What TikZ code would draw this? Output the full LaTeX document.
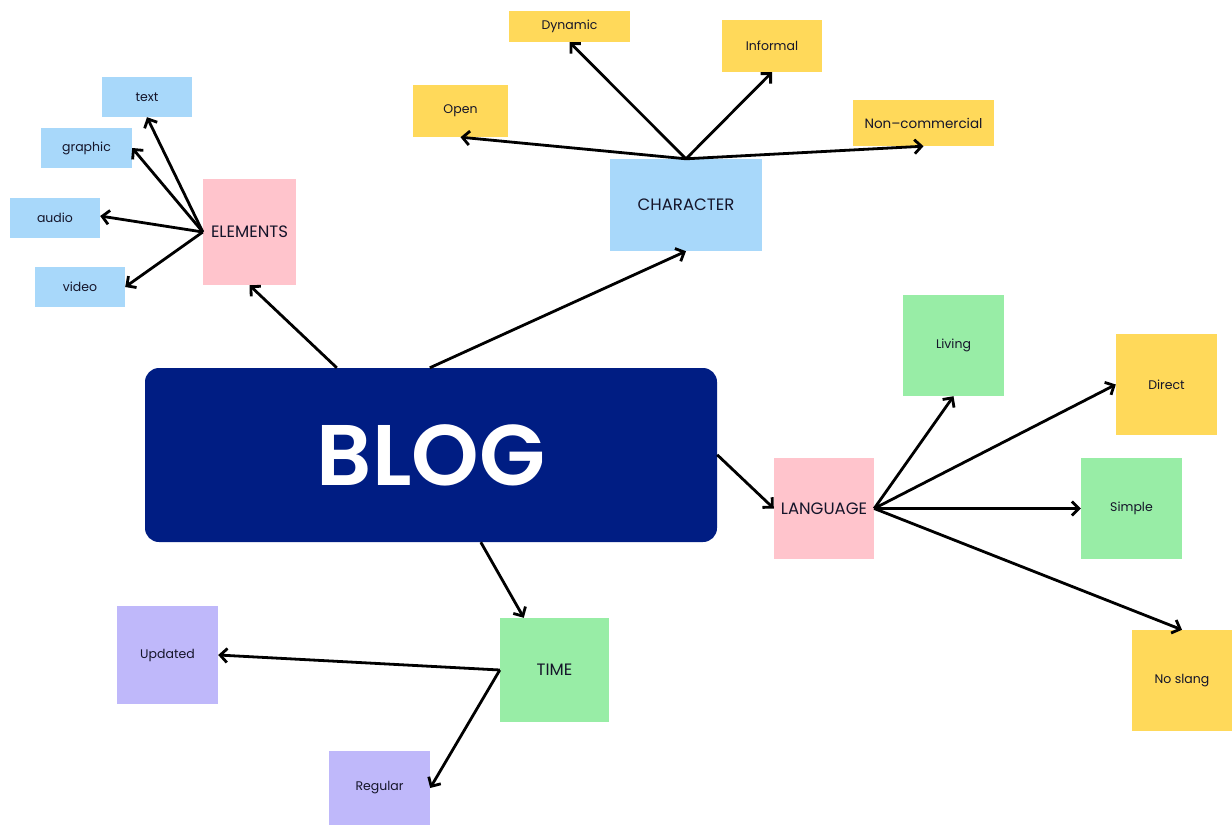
\documentclass[tikz,border=0pt]{standalone}
\usepackage{fontspec}
\setmainfont{Poppins}
\newfontfamily\blogfont{Poppins SemiBold}
\usetikzlibrary{arrows.meta}
\definecolor{cblue}{HTML}{A8D8FA}
\definecolor{cpink}{HTML}{FFC4CC}
\definecolor{cyellow}{HTML}{FFD95A}
\definecolor{cgreen}{HTML}{98EDA6}
\definecolor{cpurple}{HTML}{BFB8FA}
\definecolor{cnavy}{HTML}{001D83}
\definecolor{ctext}{HTML}{15152A}
\tikzset{
  box/.style={rectangle, inner sep=0pt, text=ctext, font=\fontsize{12.5}{14}\selectfont},
  bigbox/.style={box, font=\fontsize{16.5}{18}\selectfont},
  conn/.style={line width=2.8pt, draw=black, -{Straight Barb[length=7pt,width=14pt,line width=2.8pt]}},
}
\begin{document}
\begin{tikzpicture}[x=1pt,y=-1pt]
\useasboundingbox[fill=white] (0,0) rectangle (1232,825);
% central
\node[rectangle, fill=cnavy, rounded corners=14pt, minimum width=572pt, minimum height=174pt, inner sep=0pt,
  text=white, font=\blogfont\fontsize{86}{90}\selectfont] (blog) at (431,455) {BLOG};
% categories
\node[bigbox, fill=cpink, minimum width=93pt, minimum height=106pt] (elem) at (249.5,232) {ELEMENTS};
\node[bigbox, fill=cblue, minimum width=152pt, minimum height=92pt] (char) at (686,205) {CHARACTER};
\node[bigbox, fill=cpink, minimum width=100pt, minimum height=101pt] (lang) at (824,508.5) {LANGUAGE};
\node[bigbox, fill=cgreen, minimum width=109pt, minimum height=104pt] (time) at (554.5,670) {TIME};
% elements children
\node[box, fill=cblue, minimum width=90pt, minimum height=40pt] (text) at (147,97) {text};
\node[box, fill=cblue, minimum width=91pt, minimum height=40pt] (graphic) at (86.5,148) {graphic};
\node[box, fill=cblue, minimum width=90pt, minimum height=40pt] (audio) at (55,218) {audio};
\node[box, fill=cblue, minimum width=90pt, minimum height=40pt] (video) at (80,287) {video};
% character children
\node[box, fill=cyellow, minimum width=95pt, minimum height=52pt] (open) at (460.5,111) {Open};
\node[box, fill=cyellow, minimum width=121pt, minimum height=31pt] (dyn) at (569.5,26.5) {Dynamic};
\node[box, fill=cyellow, minimum width=100pt, minimum height=52pt] (inf) at (772,46) {Informal};
\node[box, fill=cyellow, minimum width=141pt, minimum height=46pt, font=\fontsize{13.5}{15}\selectfont] (nonc) at (923.5,123) {Non--commercial};
% language children
\node[box, fill=cgreen, minimum width=101pt, minimum height=101pt] (living) at (953.5,345.5) {Living};
\node[box, fill=cyellow, minimum width=101pt, minimum height=101pt] (direct) at (1166.5,384.5) {Direct};
\node[box, fill=cgreen, minimum width=101pt, minimum height=101pt] (simple) at (1131.5,508.5) {Simple};
\node[box, fill=cyellow, minimum width=100pt, minimum height=101pt] (slang) at (1182,680.5) {No slang};
% time children
\node[box, fill=cpurple, minimum width=101pt, minimum height=98pt] (upd) at (167.5,655) {Updated};
\node[box, fill=cpurple, minimum width=101pt, minimum height=74pt] (reg) at (379.5,788) {Regular};
% connector anchor points on BLOG
\coordinate (bE) at ([xshift=192pt]blog.north west);
\coordinate (bC) at ([xshift=285pt]blog.north west);
\coordinate (bL) at ([yshift=-87pt]blog.north east);
\coordinate (bT) at ([xshift=336pt]blog.south west);
\coordinate (tT) at ([xshift=24pt]time.north west);
% connectors
\draw[conn] (bE) -- (elem.south);
\draw[conn] (bC) -- (char.south);
\draw[conn] (bL) -- (lang.west);
\draw[conn] (bT) -- (tT);
\draw[conn] (elem.west) -- (text.south);
\draw[conn] (elem.west) -- (graphic.east);
\draw[conn] (elem.west) -- ([yshift=2pt]audio.east);
\draw[conn] (elem.west) -- (video.east);
\draw[conn] (char.north) -- (open.south);
\draw[conn] (char.north) -- (dyn.south);
\draw[conn] (char.north) -- (inf.south);
\draw[conn] (char.north) -- (nonc.south);
\draw[conn] (lang.east) -- (living.south);
\draw[conn] (lang.east) -- (direct.west);
\draw[conn] (lang.east) -- (simple.west);
\draw[conn] (lang.east) -- (slang.north);
\draw[conn] (time.west) -- (upd.east);
\draw[conn] (time.west) -- (reg.east);
\end{tikzpicture}
\end{document}
